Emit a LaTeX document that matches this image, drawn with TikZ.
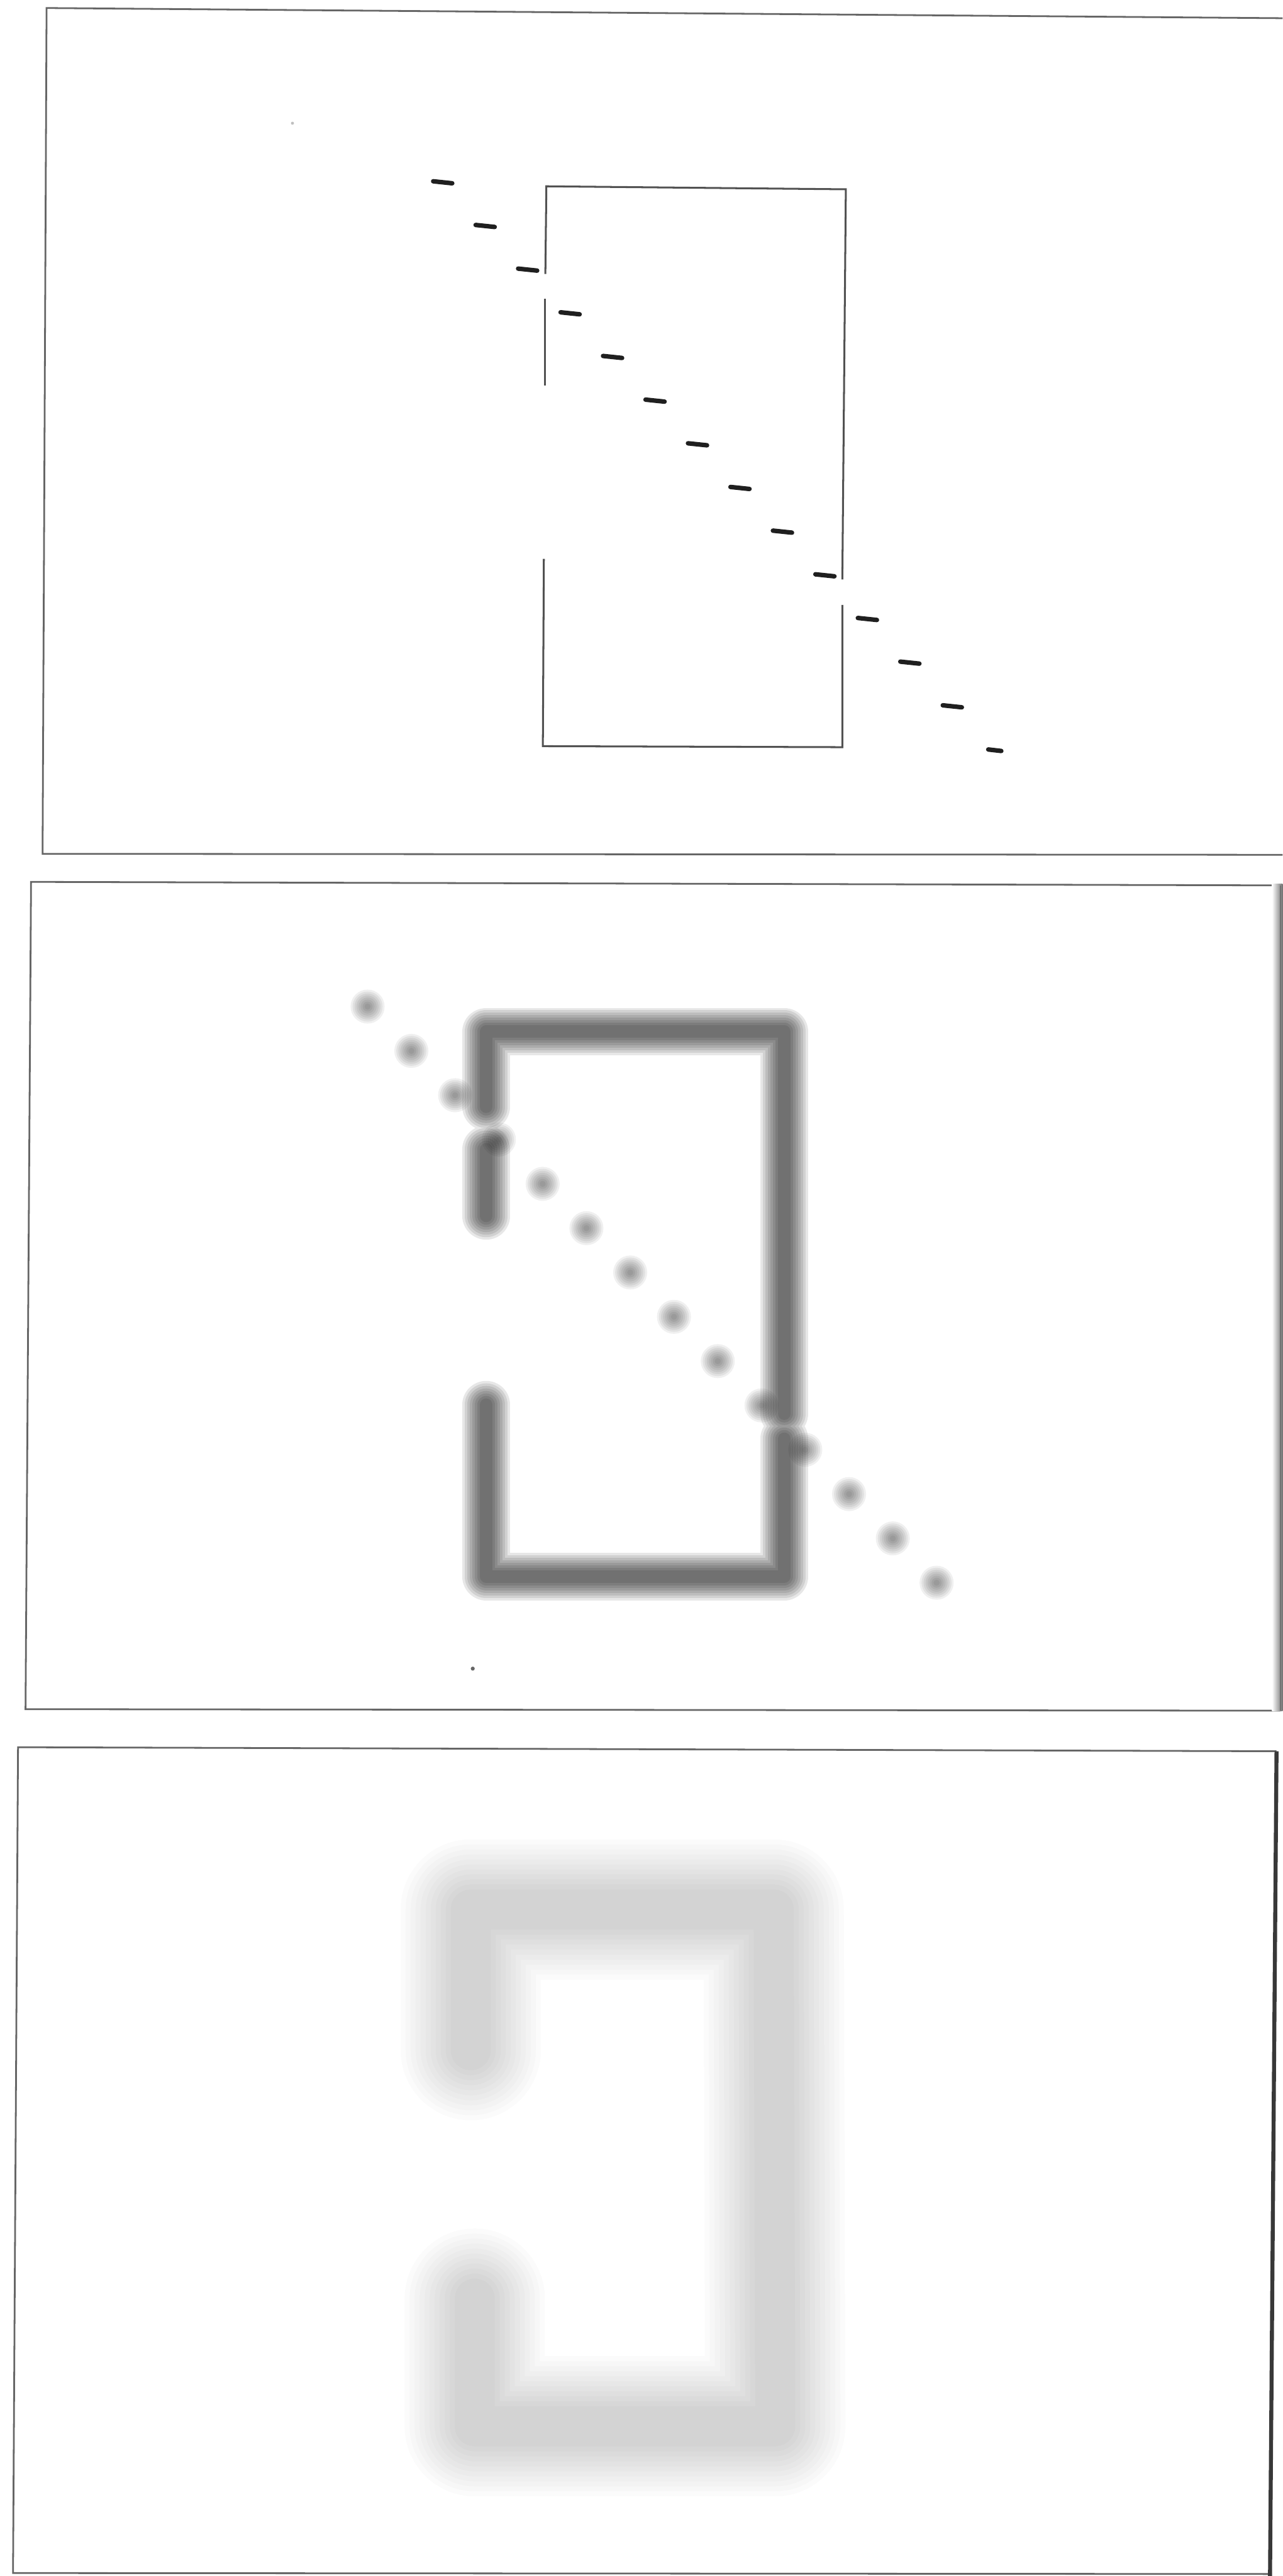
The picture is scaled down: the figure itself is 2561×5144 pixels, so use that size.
\documentclass[tikz,border=0pt]{standalone}
\usetikzlibrary{calc}
\newcommand\softline[4]{%
  \foreach \ww in {#1}{\draw[#3, line width=\ww mm, opacity=#2, line join=round, line cap=round] #4;}}
\newcommand\softdot[4]{%
  \foreach \rr in {#1}{\fill[#3, opacity=#2] #4 circle (\rr mm);}}
\tikzset{
  frameline/.style={draw=black!60, line width=0.35mm, line join=miter},
  boxline/.style={draw=black!68, line width=0.38mm},
  dashmark/.style={draw=black!88, line width=0.9mm, line cap=round},
}
\begin{document}
\begin{tikzpicture}[x=0.1mm,y=-0.1mm]
\useasboundingbox (0,0) rectangle (2561,5144);
\fill[white] (0,0) rectangle (2561,5144);
\clip (0,0) rectangle (2561,5144);

% ---------------- panel 1 ----------------
\draw[frameline] (2640,37) -- (93,16) -- (85,1705) -- (2640,1707);
\coordinate (a1) at (1091,372);
\coordinate (a2) at (1689,378);
\coordinate (a3) at (1682,1492);
\coordinate (a4) at (1084,1490);
\draw[boxline] (1089,547) -- (a1) -- (a2) -- (1682,1157);
\draw[boxline] (1682,1208) -- (a3) -- (a4) -- (1086,1116);
\draw[boxline] (1088,597) -- (1088,770);
\foreach \i in {0,...,12}{
  \draw[dashmark] ({884+84.8*\i-19},{364+87.2*\i-2}) -- ++(38,4);
}
\draw[dashmark] ({884+84.8*13-13},{364+87.2*13-1}) -- ++(26,3);
\fill[black!25] (584,246) circle (3);

% ---------------- panel 2 ----------------
\draw[frameline] (2557,1768) -- (62,1761) -- (51,3413) -- (2557,3416);
\shade[left color=white, right color=black!55] (2540,1765) rectangle (2561,3416);
\draw[black!55, line width=0.35mm] (2557,1768) -- (2557,3416);
\softline{9.5,8.5,7.5,6.5,5.5,4.5,3.5,2.5}{0.095}{black}{%
  (971,2210) -- (971,2060) -- (1566,2060) -- (1566,2823)
  (1566,2873) -- (1566,3148) -- (971,3148) -- (971,2805)
  (971,2295) -- (971,2428)}
\foreach \i in {0,...,13}{
  \softdot{3.4,3.0,2.6,2.2,1.8,1.4,1.0,0.6}{0.06}{black}{({734+87.4*\i},{2010+88.5*\i})}
}
\fill[black!60] (944,3332) circle (4);

% ---------------- panel 3 ----------------
\draw[frameline] (2549,3497) -- (36,3489) -- (26,5138) -- (2537,5140);
\draw[black!78, line width=0.8mm] (2549,3497) -- (2536,5144);
\softline{28,26,24,22,20,18,16,14,12,10,8}{0.016}{black}{%
  (940,4094) -- (940,3813) -- (1545,3813) -- (1548,4845) -- (948,4845) -- (948,4590)}
\end{tikzpicture}
\end{document}
